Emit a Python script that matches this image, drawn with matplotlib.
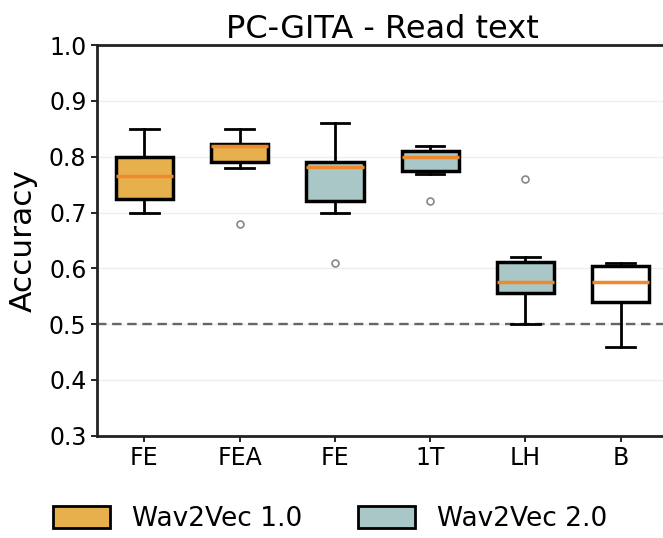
import matplotlib
matplotlib.use('Agg')
import matplotlib.pyplot as plt
from matplotlib.patches import Patch

# box statistics per feature set
labels = ['FE', 'FEA', 'FE', '1T', 'LH', 'B']
whislo = [0.70, 0.78, 0.70, 0.77, 0.50, 0.46]
q1 = [0.724, 0.79, 0.72, 0.775, 0.555, 0.54]
med = [0.766, 0.82, 0.782, 0.80, 0.576, 0.576]
q3 = [0.80, 0.823, 0.79, 0.81, 0.611, 0.605]
whishi = [0.85, 0.85, 0.86, 0.82, 0.62, 0.61]
fliers = [[], [0.68], [0.61], [0.72], [0.76], []]
model = ['w1', 'w1', 'w2', 'w2', 'w2', 'base']
chance = 0.5

ORANGE = '#E8B04C'
TEAL = '#A9C7C6'
MEDIAN = '#EE8A2E'
fills = {'w1': ORANGE, 'w2': TEAL, 'base': 'white'}

plt.rcParams['font.family'] = 'DejaVu Sans'

fig = plt.figure(figsize=(6.63, 5.38), dpi=100)
ax = fig.add_axes([0.146, 0.19, 0.862, 0.726])

stats = []
for i in range(len(labels)):
    stats.append({'whislo': whislo[i], 'q1': q1[i], 'med': med[i], 'q3': q3[i],
                  'whishi': whishi[i], 'fliers': fliers[i], 'label': labels[i]})

bp = ax.bxp(stats, positions=range(len(labels)), widths=0.6, patch_artist=True,
            boxprops=dict(linewidth=2.5, edgecolor='black'),
            whiskerprops=dict(linewidth=2, color='black'),
            capprops=dict(linewidth=2, color='black'),
            medianprops=dict(linewidth=2.5, color=MEDIAN),
            flierprops=dict(marker='o', markersize=5, markerfacecolor='none',
                            markeredgecolor='#888888', markeredgewidth=1.2))
for patch, m in zip(bp['boxes'], model):
    patch.set_facecolor(fills[m])

ax.axhline(chance, color='#666666', linestyle='--', linewidth=1.7, dashes=(4, 2.4), zorder=1.5)
ax.grid(axis='y', color='#eeeeee', linewidth=1)
ax.set_axisbelow(True)

ax.set_xlim(-0.5, 5.5)
ax.set_ylim(0.3, 1.0)
ax.set_yticks([0.3, 0.4, 0.5, 0.6, 0.7, 0.8, 0.9, 1.0])
ax.set_xticklabels(labels)
ax.tick_params(labelsize=17, width=1.2, length=4)
for s in ax.spines.values():
    s.set_linewidth(2)
    s.set_color('#222222')

ax.set_ylabel('Accuracy', fontsize=22.5, labelpad=8)
ax.set_title('PC-GITA - Read text', fontsize=23, pad=4)

handles = [Patch(facecolor=ORANGE, edgecolor='black', linewidth=2, label='Wav2Vec 1.0'),
           Patch(facecolor=TEAL, edgecolor='black', linewidth=2, label='Wav2Vec 2.0')]
fig.legend(handles=handles, loc='center', bbox_to_anchor=(0.498, 0.035), ncol=2,
           frameon=False, fontsize=19, handlelength=2.15, handleheight=0.9,
           handletextpad=0.85, columnspacing=2.1)

fig.savefig('out.png', dpi=100)
